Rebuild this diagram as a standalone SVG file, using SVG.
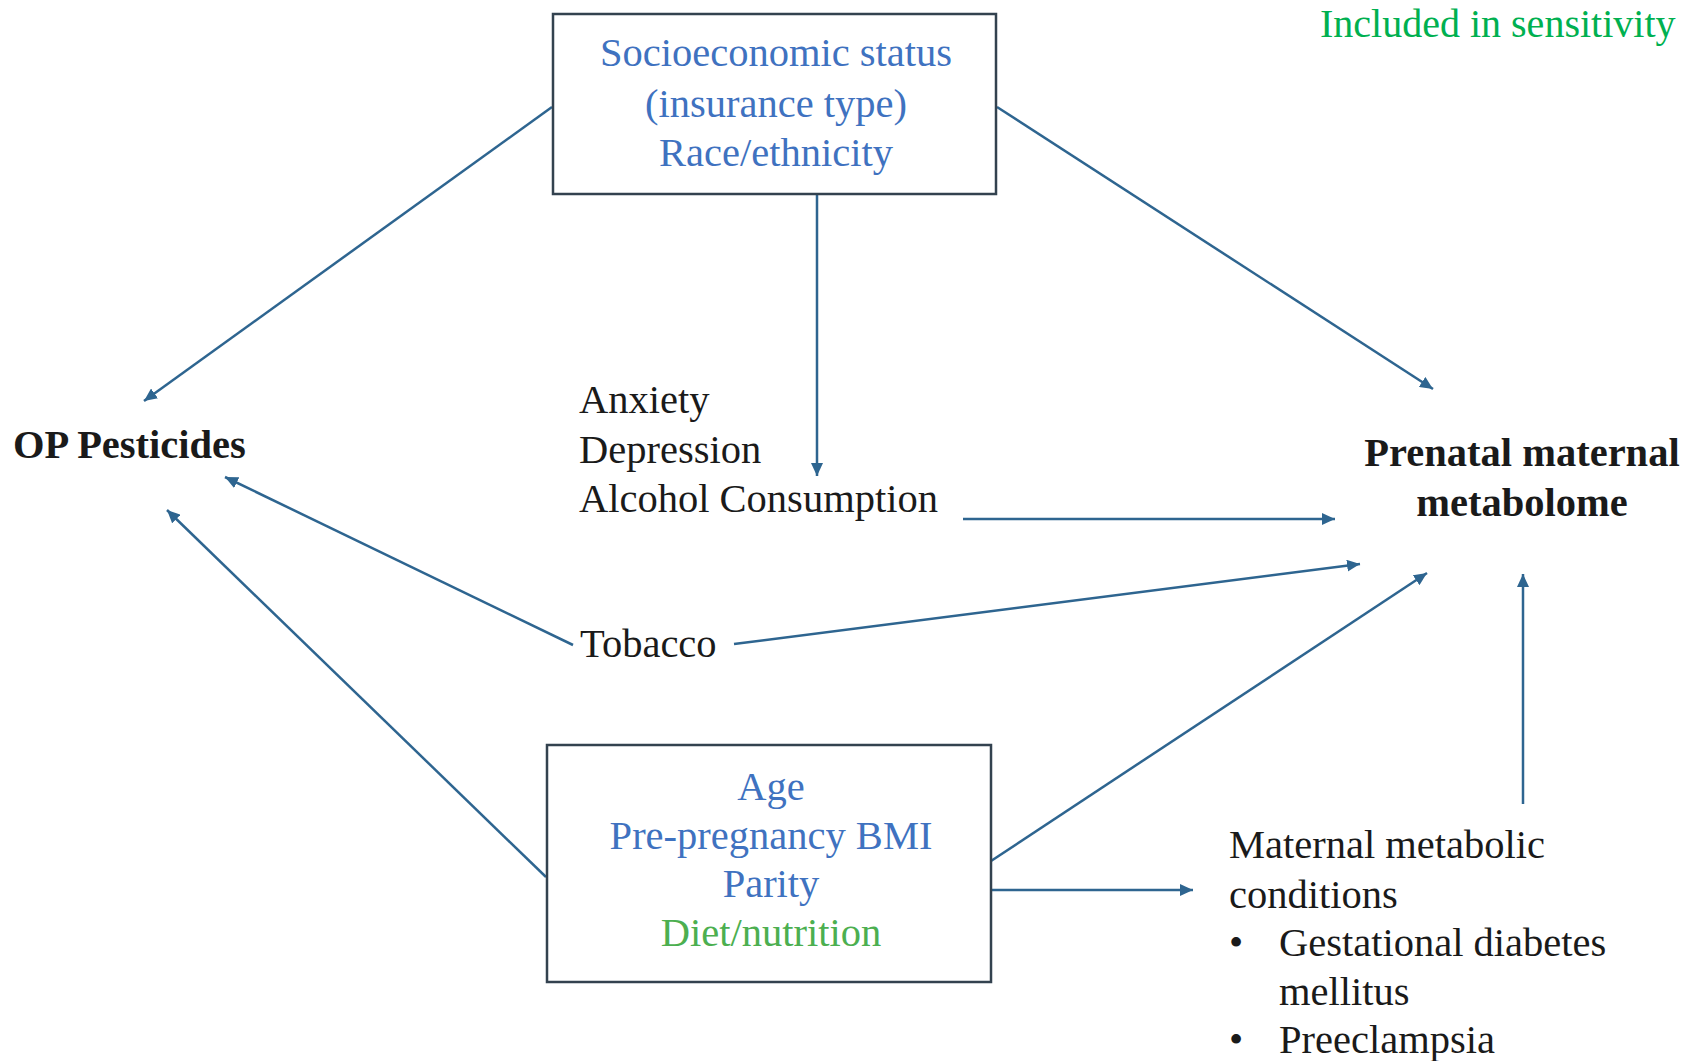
<svg xmlns="http://www.w3.org/2000/svg" width="1686" height="1061" viewBox="0 0 1686 1061">
<style>
text{font-family:"Liberation Serif","Times New Roman",serif;font-size:40.5px}
.blue{fill:#3F72C0}
.green{fill:#4CAF50}
.dark{fill:#1a1a1a}
.bold{font-weight:bold}
.box{fill:#fff;stroke:#33424f;stroke-width:2.5}
.conn line{stroke:#2E6590;stroke-width:2.5;marker-end:url(#ah)}
</style>
<defs>
<marker id="ah" markerUnits="userSpaceOnUse" markerWidth="14" markerHeight="12" refX="13" refY="6" orient="auto">
<path d="M0,0 L13,6 L0,12 z" fill="#2E6590"/>
</marker>
</defs>
<rect width="1686" height="1061" fill="#fff"/>
<g id="legend">
<text x="1320" y="37" style="font-size:40px;fill:#00B050">Included in sensitivity</text>
</g>
<g class="conn" id="connectors">
<line x1="552" y1="107" x2="144" y2="401"/>
<line x1="817" y1="195" x2="817" y2="476"/>
<line x1="997" y1="107" x2="1433" y2="389"/>
<line x1="963" y1="519" x2="1335" y2="519"/>
<line x1="573" y1="645" x2="225" y2="477"/>
<line x1="734" y1="644" x2="1360" y2="564"/>
<line x1="546" y1="877" x2="167" y2="510"/>
<line x1="991" y1="861" x2="1427" y2="573"/>
<line x1="991" y1="890" x2="1193" y2="890"/>
<line x1="1523" y1="804" x2="1523" y2="574"/>
</g>
<g id="ses">
<rect class="box" x="553" y="14" width="443" height="180"/>
<text class="blue" x="776" y="66" text-anchor="middle">Socioeconomic status</text>
<text class="blue" x="776" y="117" text-anchor="middle">(insurance type)</text>
<text class="blue" x="776" y="166" text-anchor="middle">Race/ethnicity</text>
</g>
<g id="op">
<text class="dark bold" x="13" y="458">OP Pesticides</text>
</g>
<g id="metabolome">
<text class="dark bold" x="1522" y="466" text-anchor="middle">Prenatal maternal</text>
<text class="dark bold" x="1522" y="516" text-anchor="middle">metabolome</text>
</g>
<g id="mental">
<text class="dark" x="579" y="413">Anxiety</text>
<text class="dark" x="579" y="463">Depression</text>
<text class="dark" x="579" y="512">Alcohol Consumption</text>
</g>
<g id="tobacco">
<text class="dark" x="580" y="657">Tobacco</text>
</g>
<g id="demo">
<rect class="box" x="547" y="745" width="444" height="237"/>
<text class="blue" x="771" y="800" text-anchor="middle">Age</text>
<text class="blue" x="771" y="849" text-anchor="middle">Pre-pregnancy BMI</text>
<text class="blue" x="771" y="897" text-anchor="middle">Parity</text>
<text class="green" x="771" y="946" text-anchor="middle">Diet/nutrition</text>
</g>
<g id="conditions">
<text class="dark" x="1229" y="858">Maternal metabolic</text>
<text class="dark" x="1229" y="908">conditions</text>
<text class="dark" x="1229" y="956">•</text>
<text class="dark" x="1279" y="956">Gestational diabetes</text>
<text class="dark" x="1279" y="1005">mellitus</text>
<text class="dark" x="1229" y="1053">•</text>
<text class="dark" x="1279" y="1053">Preeclampsia</text>
</g>
</svg>
